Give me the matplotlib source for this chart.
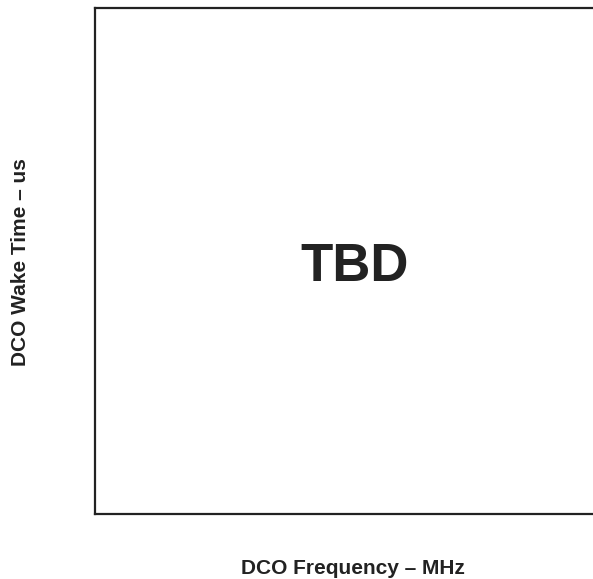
import matplotlib
matplotlib.use("Agg")
import matplotlib.pyplot as plt

plt.rcParams['font.family'] = ['Liberation Sans', 'DejaVu Sans']

x_label = "DCO Frequency \u2013 MHz"
y_label = "DCO Wake Time \u2013 us"
placeholder = "TBD"

fig = plt.figure(figsize=(5.93, 5.79), dpi=100)
# axes runs past the right edge of the figure, like the original
ax = fig.add_axes([0.161, 0.1128, 0.875, 0.8742])
ax.set_xticks([])
ax.set_yticks([])
for s in ax.spines.values():
    s.set_linewidth(1.6)
    s.set_color('#222222')

fig.text(354.5/593, 1 - 280.7/579, placeholder, ha='center', va='baseline',
         fontsize=38, fontweight='bold', color='#222222')

fig.text(353.3/593, 1 - 573.5/579, x_label, ha='center', va='baseline',
         fontsize=15, fontweight='bold', color='#222222')
fig.text(30.5/593, 1 - 262.5/579, y_label, ha='right', va='center', rotation=90,
         fontsize=15, fontweight='bold', color='#222222')

fig.savefig("out.png", dpi=100)
